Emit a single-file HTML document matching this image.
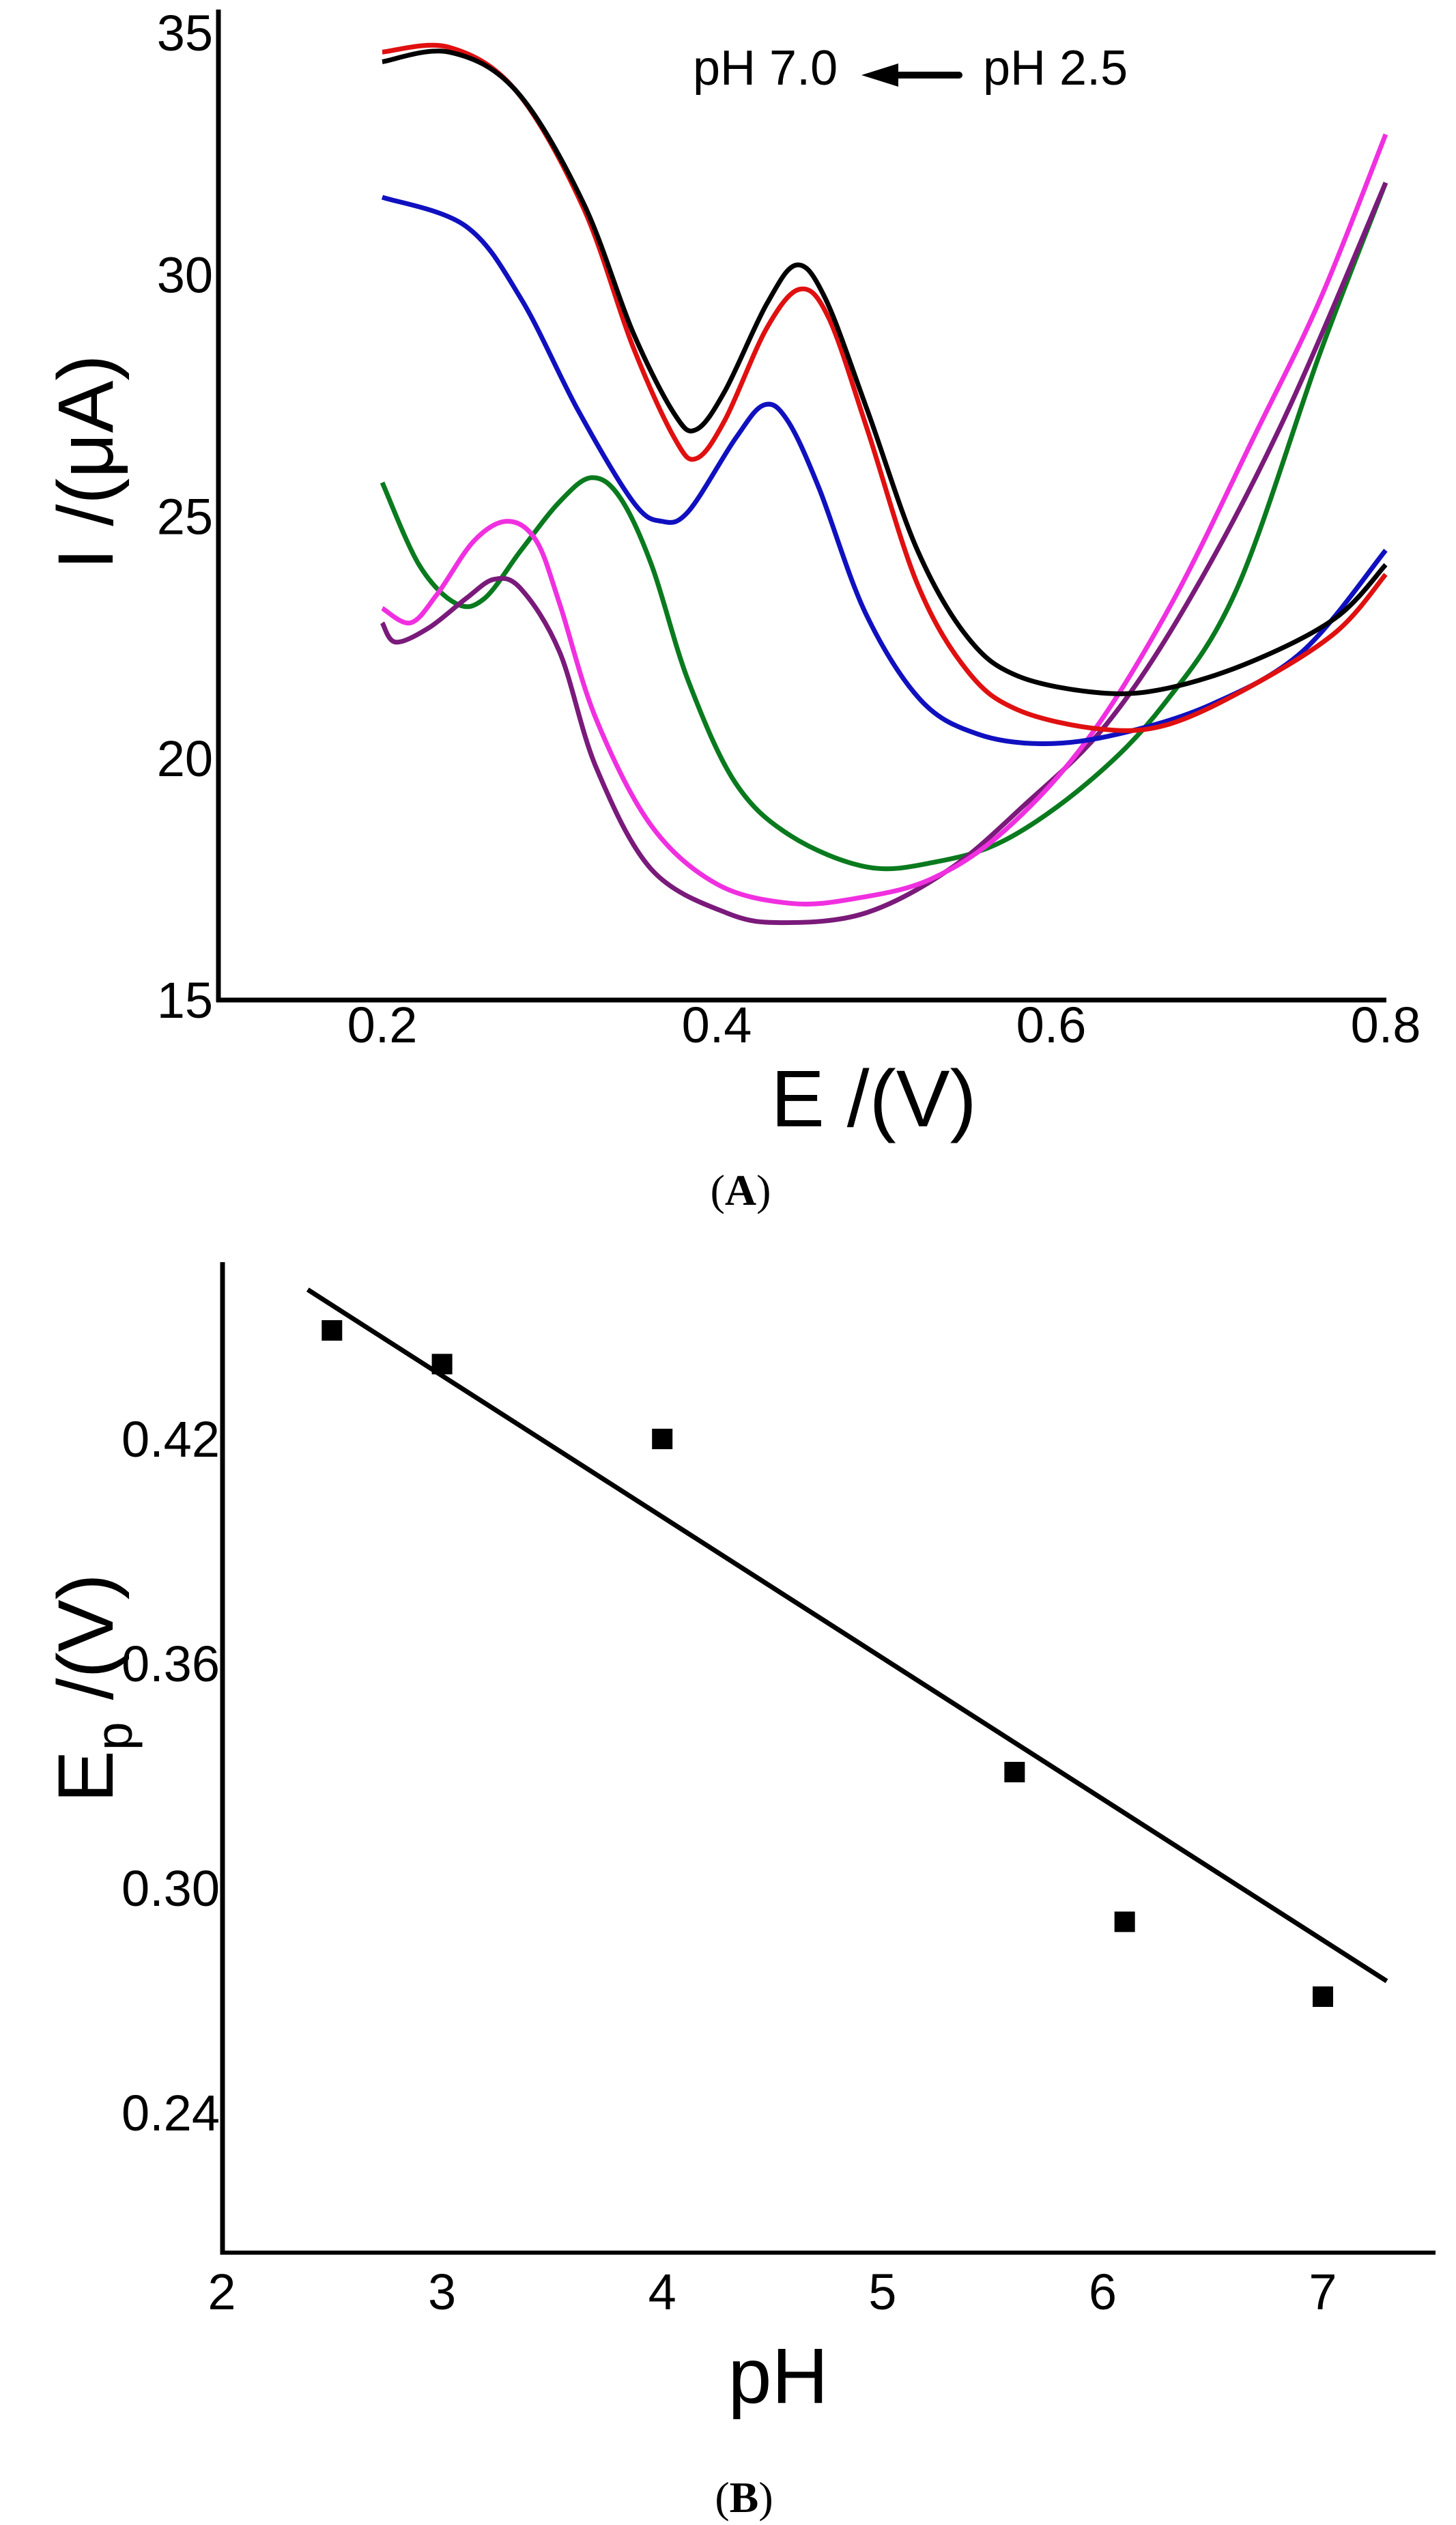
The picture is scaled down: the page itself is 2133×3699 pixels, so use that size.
<!DOCTYPE html>
<html><head><meta charset="utf-8"><style>
html,body{margin:0;padding:0;background:#fff;}
svg{display:block;}
text{font-family:"Liberation Sans",sans-serif;fill:#000;}
</style></head><body>
<svg id="fig" width="2133" height="3699" viewBox="0 0 2133 3699" xmlns="http://www.w3.org/2000/svg">
<g id="chartA"></g>
<g id="chartB"></g>
</svg>
<script>
// ---- Chart A data ----
const aXTicks = [0.2, 0.4, 0.6, 0.8];
const aXTickLabels = ["0.2", "0.4", "0.6", "0.8"];
const aYTicks = [15, 20, 25, 30, 35];
const aYTickLabels = ["15", "20", "25", "30", "35"];
const blackE = [0.2,0.24,0.28,0.32,0.35,0.375,0.388,0.405,0.43,0.448,0.465,0.49,0.52,0.55,0.58,0.63,0.67,0.72,0.77,0.8];
const blackI = [34.4,34.6,33.8,31.5,28.8,27.1,26.8,27.6,29.4,30.2,29.5,27.2,24.3,22.5,21.7,21.35,21.45,22.0,22.9,24.0];
const redE = [0.2,0.24,0.28,0.32,0.35,0.375,0.388,0.405,0.43,0.45,0.467,0.49,0.52,0.55,0.58,0.63,0.67,0.72,0.77,0.8];
const redI = [34.6,34.7,33.8,31.4,28.5,26.6,26.2,27.0,28.9,29.7,29.1,26.8,23.6,21.8,21.0,20.6,20.7,21.5,22.6,23.8];
const blueE = [0.2,0.25,0.283,0.317,0.35,0.367,0.383,0.411,0.428,0.442,0.461,0.489,0.522,0.556,0.596,0.64,0.695,0.75,0.8];
const blueI = [31.6,31.0,29.5,27.2,25.3,24.9,25.1,26.6,27.3,27.0,25.6,23.0,21.2,20.5,20.3,20.5,21.1,22.2,24.3];
const greenE = [0.2,0.222,0.244,0.261,0.283,0.306,0.325,0.342,0.361,0.383,0.411,0.444,0.49,0.53,0.572,0.622,0.667,0.711,0.761,0.8];
const greenI = [25.7,24.0,23.2,23.3,24.3,25.3,25.8,25.4,24.0,21.6,19.5,18.4,17.75,17.85,18.3,19.5,21.1,23.5,28.4,31.9];
const magentaE = [0.2,0.217,0.233,0.255,0.275,0.292,0.306,0.328,0.361,0.4,0.444,0.483,0.528,0.572,0.622,0.672,0.722,0.761,0.8];
const magentaI = [23.1,22.8,23.4,24.5,24.9,24.5,23.2,20.8,18.6,17.4,17.0,17.1,17.5,18.5,20.4,23.2,26.7,29.5,32.9];
const purpleE = [0.2,0.208,0.228,0.25,0.267,0.283,0.306,0.328,0.361,0.406,0.44,0.489,0.539,0.583,0.633,0.683,0.739,0.8];
const purpleI = [22.8,22.4,22.7,23.3,23.7,23.5,22.2,19.8,17.7,16.8,16.6,16.8,17.7,19.0,20.7,23.3,27.0,31.9];

// ---- Chart B data ----
const bXTicks = [2, 3, 4, 5, 6, 7];
const bXTickLabels = ["2", "3", "4", "5", "6", "7"];
const bYTicks = [0.24, 0.30, 0.36, 0.42];
const bYTickLabels = ["0.24", "0.30", "0.36", "0.42"];
const pHValues = [2.5, 3.0, 4.0, 5.6, 6.1, 7.0];
const EpValues = [0.449, 0.440, 0.420, 0.331, 0.291, 0.271];
const fitSlope = [-0.0377];
const fitIntercept = [0.550];
const fitRange = [2.39, 7.29];

const NS = "http://www.w3.org/2000/svg";
function mk(tag, attrs, parent){
  const el = document.createElementNS(NS, tag);
  for (const k in attrs) el.setAttribute(k, attrs[k]);
  parent.appendChild(el);
  return el;
}
function smoothPath(pts){
  let d = "M" + pts[0][0].toFixed(1) + "," + pts[0][1].toFixed(1);
  for (let i = 0; i < pts.length - 1; i++){
    const p0 = pts[i-1] || pts[i], p1 = pts[i], p2 = pts[i+1], p3 = pts[i+2] || p2;
    const c1 = [p1[0] + (p2[0]-p0[0])/6, p1[1] + (p2[1]-p0[1])/6];
    const c2 = [p2[0] - (p3[0]-p1[0])/6, p2[1] - (p3[1]-p1[1])/6];
    d += " C" + c1[0].toFixed(1) + "," + c1[1].toFixed(1) + " " + c2[0].toFixed(1) + "," + c2[1].toFixed(1) + " " + p2[0].toFixed(1) + "," + p2[1].toFixed(1);
  }
  return d;
}

// ---- Chart A ----
(function(){
  const g = document.getElementById("chartA");
  const xA = e => 560 + (e - 0.2) / 0.2 * 490;
  const yA = i => 1465 - (i - 15) / 20 * 1417;
  const ay = mk("line", {x1:320, y1:14, x2:320, y2:1468, stroke:"#000", "stroke-width":7}, g);
  
  
  const ax = mk("line", {x1:317, y1:1465, x2:2031, y2:1465, stroke:"#000", "stroke-width":7}, g);
  
  
  aYTicks.forEach((v, k) => {
    const t = mk("text", {x:312, y:yA(v)+26, "font-size":74, "text-anchor":"end"}, g);
    t.textContent = aYTickLabels[k];
    
    
  });
  aXTicks.forEach((v, k) => {
    const t = mk("text", {x:xA(v), y:1527, "font-size":74, "text-anchor":"middle"}, g);
    t.textContent = aXTickLabels[k];
    
    
  });
  const series = [
    [greenE, greenI, "#0a7a1e", "series-green"],
    [purpleE, purpleI, "#7a1a7a", "series-purple"],
    [magentaE, magentaI, "#f030e0", "series-magenta"],
    [blueE, blueI, "#1010c0", "series-blue"],
    [redE, redI, "#e01010", "series-red"],
    [blackE, blackI, "#000000", "series-black"]
  ];
  series.forEach(s => {
    const pts = s[0].map((e, k) => [xA(e), yA(s[1][k])]);
    const p = mk("path", {d:smoothPath(pts), fill:"none", stroke:s[2], "stroke-width":7, "stroke-linejoin":"round"}, g);
    
    
  });
  const t1 = mk("text", {x:1015, y:124, "font-size":72}, g);
  t1.textContent = "pH 7.0";
  
  
  const ar = mk("g", {}, g);
  
  
  mk("line", {x1:1300, y1:110, x2:1405, y2:110, stroke:"#000", "stroke-width":10, "stroke-linecap":"round"}, ar);
  mk("polygon", {points:"1262,110 1316,93 1316,127", fill:"#000"}, ar);
  const t2 = mk("text", {x:1440, y:124, "font-size":72}, g);
  t2.textContent = "pH 2.5";
  
  
  const yt = mk("text", {x:0, y:0, "font-size":115, "text-anchor":"middle", transform:"translate(165,677) rotate(-90)"}, g);
  yt.textContent = "I /(\u03bcA)";
  
  
  const xt = mk("text", {x:1280, y:1650, "font-size":118, "text-anchor":"middle"}, g);
  xt.textContent = "E /(V)";
  
  
  const cap = mk("text", {x:1085, y:1765, "font-size":64, "text-anchor":"middle", style:"font-family:'Liberation Serif',serif"}, g);
  cap.innerHTML = "(<tspan font-weight='bold'>A</tspan>)";
  
  
})();

// ---- Chart B ----
(function(){
  const g = document.getElementById("chartB");
  const xB = p => 325 + (p - 2) * 322.6;
  const yB = v => 2108 + (0.42 - v) / 0.06 * 329;
  const ay = mk("line", {x1:326, y1:1849, x2:326, y2:3303, stroke:"#000", "stroke-width":7}, g);
  
  
  const ax = mk("line", {x1:323, y1:3300, x2:2103, y2:3300, stroke:"#000", "stroke-width":6}, g);
  
  
  bYTicks.forEach((v, k) => {
    const t = mk("text", {x:322, y:yB(v)+26, "font-size":74, "text-anchor":"end"}, g);
    t.textContent = bYTickLabels[k];
    
    
  });
  bXTicks.forEach((v, k) => {
    const t = mk("text", {x:xB(v), y:3383, "font-size":74, "text-anchor":"middle"}, g);
    t.textContent = bXTickLabels[k];
    
    
  });
  const fl = mk("line", {x1:xB(fitRange[0]), y1:yB(fitIntercept[0] + fitSlope[0]*fitRange[0]), x2:xB(fitRange[1]), y2:yB(fitIntercept[0] + fitSlope[0]*fitRange[1]), stroke:"#000", "stroke-width":7}, g);
  
  
  pHValues.forEach((p, k) => {
    const r = mk("rect", {x:xB(p)-15, y:yB(EpValues[k])-15, width:30, height:30, fill:"#000"}, g);
    
    
  });
  const yt = mk("text", {x:0, y:0, "font-size":115, "text-anchor":"middle", transform:"translate(165,2473) rotate(-90)"}, g);
  yt.innerHTML = "E<tspan font-size='75' dy='28'>p</tspan><tspan dy='-28'> /(V)</tspan>";
  
  
  const xt = mk("text", {x:1140, y:3520, "font-size":115, "text-anchor":"middle"}, g);
  xt.textContent = "pH";
  
  
  const cap = mk("text", {x:1090, y:3680, "font-size":64, "text-anchor":"middle", style:"font-family:'Liberation Serif',serif"}, g);
  cap.innerHTML = "(<tspan font-weight='bold'>B</tspan>)";
  
  
})();
</script>
</body></html>
